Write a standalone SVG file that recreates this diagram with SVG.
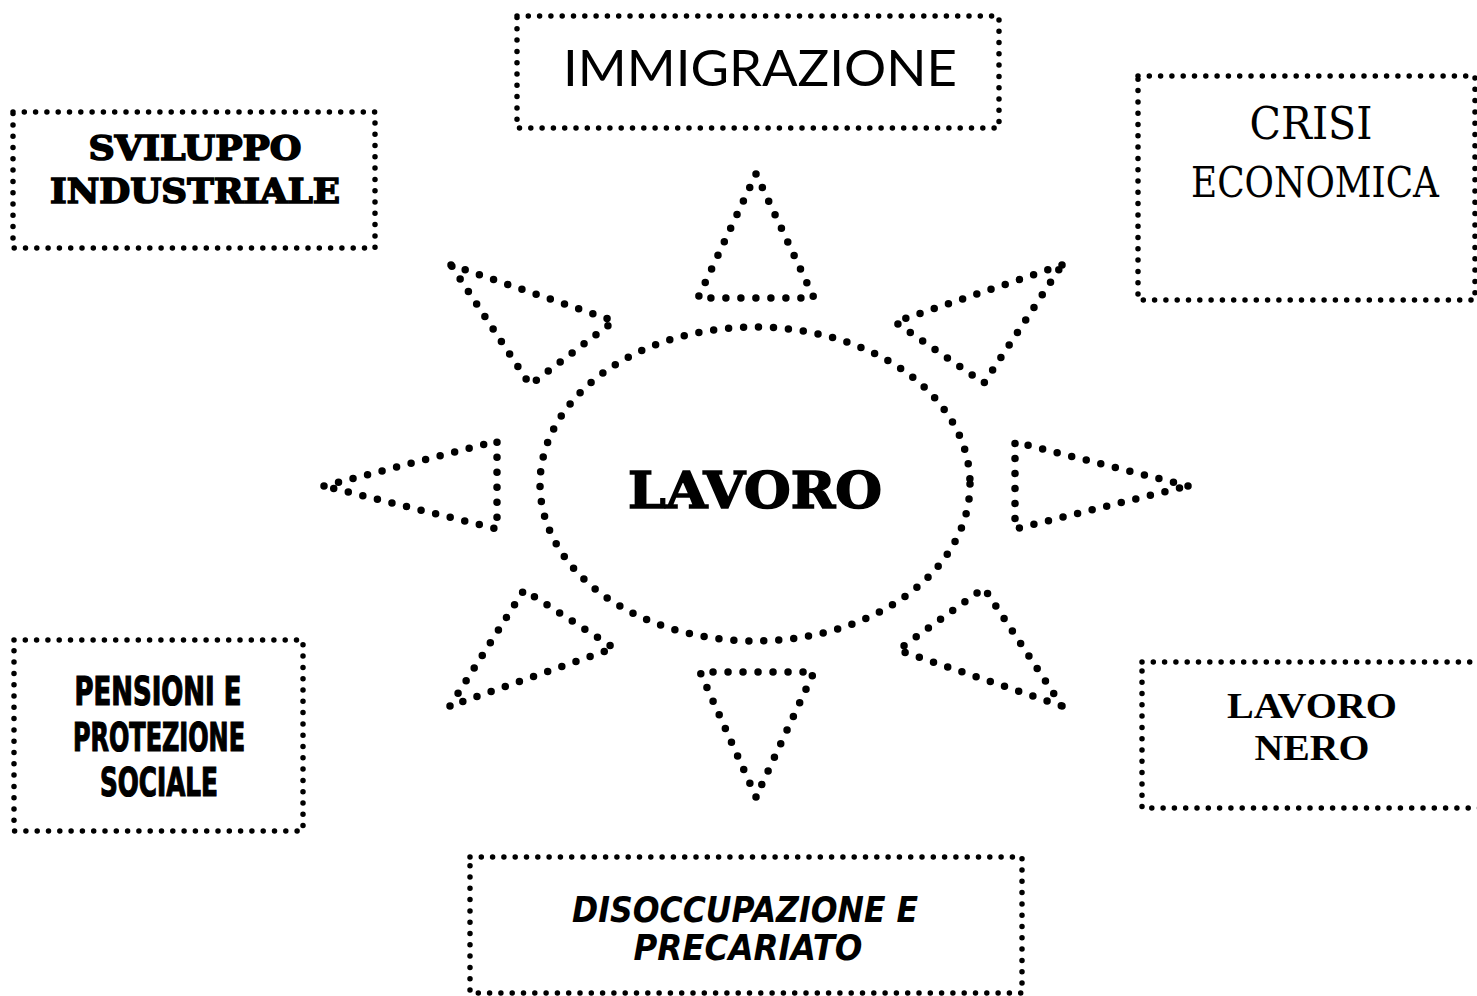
<svg xmlns="http://www.w3.org/2000/svg" width="1477" height="996" viewBox="0 0 1477 996">
<style>
.box{fill:none;stroke:#000;stroke-width:5.5;stroke-linecap:round;stroke-dasharray:0 11.3}
.ray{fill:none;stroke:#000;stroke-width:7.5;stroke-linecap:round;stroke-linejoin:round;stroke-dasharray:0 15}
.sten{font-family:"DejaVu Serif","Liberation Serif",serif;font-weight:900;fill:#000;stroke:#000;stroke-width:1.6;text-anchor:middle}
.imm{font-family:Lato,"Open Sans",sans-serif;font-weight:400;fill:#000;text-anchor:middle}
.cri{font-family:"DejaVu Serif","Liberation Serif",serif;font-weight:400;fill:#000;text-anchor:middle}
.nero{font-family:"Liberation Serif",serif;font-weight:700;fill:#000;text-anchor:middle}
.imp{font-family:"Liberation Sans Narrow","DejaVu Sans Condensed","Liberation Sans",sans-serif;font-weight:700;font-stretch:condensed;fill:#000;stroke:#000;stroke-width:1.2;text-anchor:middle}
.jag{font-family:"DejaVu Sans","Liberation Sans",sans-serif;font-weight:700;font-style:italic;fill:#000;text-anchor:middle}
</style>
<rect width="1477" height="996" fill="#fff"/>
<g id="sun">
  <ellipse class="ray" cx="755" cy="484" rx="215" ry="157"/>
  <polygon class="ray" points="756,174 814,298 698,298"/>
  <polygon class="ray" points="451,265 614,321 530,385"/>
  <polygon class="ray" points="1062,265 895,322 984,383"/>
  <polygon class="ray" points="324,486 497,441 497,529"/>
  <polygon class="ray" points="1188,486 1015,442 1015,529"/>
  <polygon class="ray" points="450,706 524,590 614,648"/>
  <polygon class="ray" points="1062,706 984,588 898,650"/>
  <polygon class="ray" points="756,797 700,672 814,672"/>
  <text class="sten" x="755" y="508" font-size="50" textLength="254" lengthAdjust="spacingAndGlyphs">LAVORO</text>
</g>
<g id="connectors"></g>
<g id="sviluppo">
  <rect class="box" x="13" y="112" width="362" height="136"/>
  <text class="sten" x="195" y="160" font-size="34" textLength="213" lengthAdjust="spacingAndGlyphs">SVILUPPO</text>
  <text class="sten" x="195" y="203" font-size="34" textLength="290" lengthAdjust="spacingAndGlyphs">INDUSTRIALE</text>
</g>
<g id="immigrazione">
  <rect class="box" x="517" y="16" width="482" height="112"/>
  <text class="imm" x="760" y="86" font-size="50" textLength="394" lengthAdjust="spacingAndGlyphs">IMMIGRAZIONE</text>
</g>
<g id="crisi">
  <rect class="box" x="1138" y="76" width="337" height="224"/>
  <text class="cri" x="1311" y="139" font-size="44" textLength="123" lengthAdjust="spacingAndGlyphs">CRISI</text>
  <text class="cri" x="1315" y="197" font-size="42" textLength="248" lengthAdjust="spacingAndGlyphs">ECONOMICA</text>
</g>
<g id="pensioni">
  <rect class="box" x="14" y="640" width="289" height="191"/>
  <text class="imp" x="158" y="705" font-size="39" textLength="167" lengthAdjust="spacingAndGlyphs">PENSIONI  E</text>
  <text class="imp" x="159" y="751" font-size="39" textLength="172" lengthAdjust="spacingAndGlyphs">PROTEZIONE</text>
  <text class="imp" x="159" y="796" font-size="39" textLength="118" lengthAdjust="spacingAndGlyphs">SOCIALE</text>
</g>
<g id="lavoronero">
  <rect class="box" x="1142" y="662" width="350" height="146"/>
  <text class="nero" x="1312" y="718" font-size="35" textLength="170" lengthAdjust="spacingAndGlyphs">LAVORO</text>
  <text class="nero" x="1312" y="760" font-size="35" textLength="115" lengthAdjust="spacingAndGlyphs">NERO</text>
</g>
<g id="disoccupazione">
  <rect class="box" x="470" y="857" width="552" height="136"/>
  <text class="jag" x="745" y="922" font-size="36" textLength="346" lengthAdjust="spacingAndGlyphs">DISOCCUPAZIONE E</text>
  <text class="jag" x="748" y="960" font-size="36" textLength="229" lengthAdjust="spacingAndGlyphs">PRECARIATO</text>
</g>
</svg>
